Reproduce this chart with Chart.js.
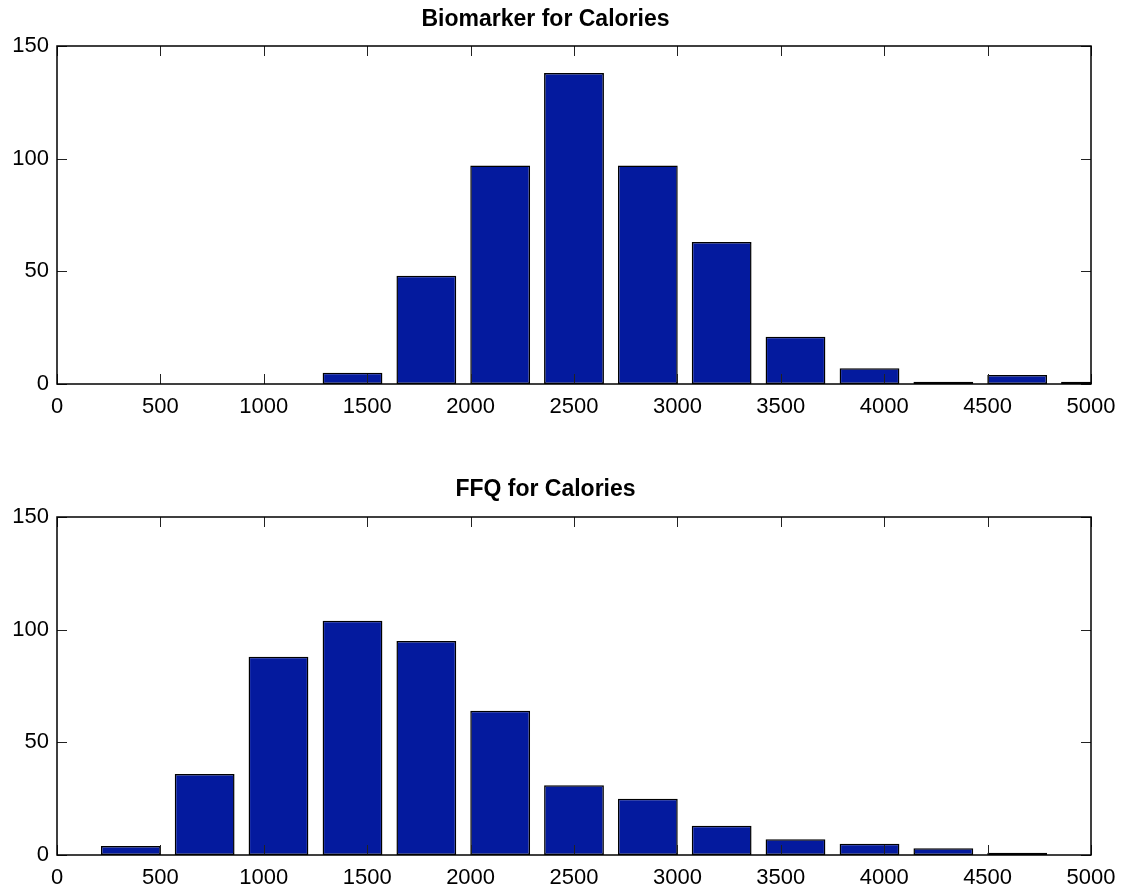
<!DOCTYPE html>
<html>
<head>
<meta charset="utf-8">
<script src="https://cdn.jsdelivr.net/npm/chart.js@4"></script>
<style>
  html, body { margin:0; padding:0; background:#fff; }
  #wrap { position:relative; width:1121px; height:887px; }
  canvas { position:absolute; left:0; }
  #top { top:0; }
  #bottom { top:443px; }
</style>
</head>
<body>
<div id="wrap">
  <canvas id="top" width="1121" height="443"></canvas>
  <canvas id="bottom" width="1121" height="444"></canvas>
</div>
<script>
// bin centres (calories) and counts
const binCenters = [357, 714, 1071, 1429, 1786, 2143, 2500, 2857, 3214, 3571, 3929, 4286, 4643, 5000];
const biomarkerCounts = [0, 0, 0, 5, 48, 97, 138, 97, 63, 21, 7, 1, 4, 1];
const ffqCounts = [4, 36, 88, 104, 95, 64, 31, 25, 13, 7, 5, 3, 1, 0];
const xTicks = [0, 500, 1000, 1500, 2000, 2500, 3000, 3500, 4000, 4500, 5000];
const yTicks = [0, 50, 100, 150];

Chart.defaults.font.family = "'Liberation Sans', Arial, Helvetica, sans-serif";
Chart.defaults.font.size = 22;
Chart.defaults.color = "#000";

// MATLAB-like box with inward ticks on all four sides
const boxTicks = {
  id: "boxTicks",
  afterDraw(chart){
    const { ctx, chartArea: a, scales } = chart;
    ctx.save();
    ctx.strokeStyle = "#222";
    ctx.lineWidth = 1;
    ctx.beginPath();
    xTicks.forEach(v => {
      const x = Math.round(scales.x.getPixelForValue(v)) + 0.5;
      ctx.moveTo(x, a.bottom); ctx.lineTo(x, a.bottom - 10);
      ctx.moveTo(x, a.top); ctx.lineTo(x, a.top + 10);
    });
    yTicks.forEach(v => {
      const y = Math.round(scales.y.getPixelForValue(v)) + 0.5;
      ctx.moveTo(a.left, y); ctx.lineTo(a.left + 10, y);
      ctx.moveTo(a.right, y); ctx.lineTo(a.right - 10, y);
    });
    ctx.stroke();
    ctx.strokeStyle = "#000";
    ctx.lineWidth = 1.5;
    ctx.strokeRect(a.left, a.top, a.right - a.left, a.bottom - a.top);
    ctx.restore();
  }
};

function mkHist(id, title, counts, titlePad, xHeight){
  return new Chart(document.getElementById(id).getContext("2d"), {
    type: "bar",
    data: {
      datasets: [{
        label: title,
        data: binCenters.map((x, i) => ({ x, y: counts[i] })),
        backgroundColor: "#041a9e",
        borderColor: "#000",
        borderWidth: 1.5,
        borderSkipped: false,
        barPercentage: 0.81,
        categoryPercentage: 1,
        clip: 0
      }]
    },
    options: {
      responsive: false,
      animation: false,
      layout: { padding: { left: 0, right: 30, top: 0, bottom: 0 } },
      plugins: {
        legend: { display: false },
        tooltip: { enabled: false },
        title: {
          display: true, text: title, color: "#000",
          font: { size: 23, weight: "bold" },
          padding: titlePad
        }
      },
      scales: {
        x: {
          type: "linear", min: 0, max: 5000, offset: false,
          grid: { display: false, drawTicks: false, offset: false },
          border: { display: false },
          ticks: { stepSize: 500, padding: 10, maxRotation: 0, autoSkip: false, callback: v => String(v) },
          afterFit: s => { s.height = xHeight; s.paddingLeft = 0; s.paddingRight = 0; }
        },
        y: {
          min: 0, max: 150,
          grid: { display: false, drawTicks: false },
          border: { display: false },
          ticks: { stepSize: 50, padding: 8 },
          afterFit: s => { s.width = 57; s.paddingTop = 0; s.paddingBottom = 0; }
        }
      }
    },
    plugins: [boxTicks]
  });
}

mkHist("top", "Biomarker for Calories", biomarkerCounts, { top: 6.2, bottom: 12.2 }, 59);
mkHist("bottom", "FFQ for Calories", ffqCounts, { top: 33.2, bottom: 13.2 }, 32);
</script>
</body>
</html>
